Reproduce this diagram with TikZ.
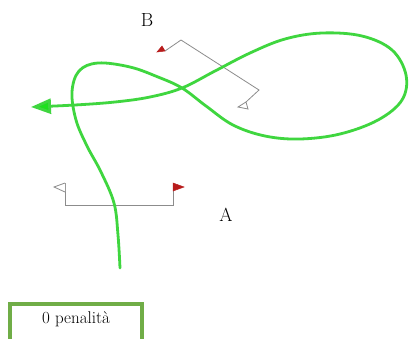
\documentclass[tikz,border=0pt]{standalone}
\usepackage{fontspec}
\setmainfont{Latin Modern Roman}
\usepackage{xcolor}
\usetikzlibrary{arrows.meta}
\definecolor{racepath}{HTML}{3FD63F}
\definecolor{racetip}{HTML}{1EE01E}
\definecolor{polegray}{HTML}{8C8C8C}
\definecolor{flagred}{HTML}{B81C1C}
\definecolor{scoreborder}{HTML}{70AD47}
\tikzset{
  gateline/.style={
    draw=polegray,
    line width=0.8pt,
    line join=miter
  },
  redflag/.style={
    draw=flagred,
    fill=flagred,
    line width=0.5pt
  },
  whiteflag/.style={
    draw=polegray,
    fill=white,
    line width=0.8pt
  },
  gatelabel/.style={
    font=\fontsize{19}{22}\selectfont,
    inner sep=0pt
  },
  scorebox/.style={
    draw=scoreborder,
    line width=4pt
  },
  pathline/.style={
    draw=racepath,
    line width=2.8pt,
    line cap=round,
    -{Triangle[length=20pt, width=15pt, fill=racetip]}
  }
}

\begin{document}
\begin{tikzpicture}[x=1pt, y=-1pt]

  \clip (0,0) rectangle (409,338);
  \fill[white] (0,0) rectangle (409,338);

  % ==================== GATE B ====================
  \coordinate (bRed) at (165,51);
  \coordinate (bTop) at (181,40);
  \coordinate (bCorner) at (259,90);
  \coordinate (bWhite) at (246,102);
  \draw [gateline] (bRed) -- (bTop) -- (bCorner) -- (bWhite);
  \draw [redflag] (bRed) -- (157,52) -- (162,46) -- cycle;
  \draw [whiteflag] (bWhite) -- (238,107) -- (248,109) -- cycle;
  \node (labelB) [gatelabel] at (147,20) {B};

  % ==================== GATE A ====================
  \coordinate (aLeft) at (65,205);
  \coordinate (aRight) at (173,205);
  \draw [gateline] (65,183) -- (aLeft) -- (aRight) -- (173,183);
  \draw [whiteflag] (65,183) -- (54,187) -- (65,192);
  \draw [redflag] (173,183) -- (184,187) -- (173,191) -- cycle;
  \node (labelA) [gatelabel] at (226,215) {A};

  % ==================== PATH ====================
  \draw [pathline] plot [smooth, tension=0.6] coordinates {
    (120,268) (118,235) (114,203) (101,172) (87,146) (76,120) (72,92)
    (79,71) (98,63) (130,67) (158,77) (182,88) (206,106) (233,125)
    (265,136) (300,139) (340,134) (378,120) (402,100) (406,75)
    (392,50) (362,36) (322,33) (285,39) (250,53) (215,71) (182,88)
    (150,97) (115,102) (75,105) (31,107)
  };

  % ==================== SCORE ====================
  \draw [scorebox] (10,304) rectangle (142,350);
  \node (penalty) [gatelabel, font=\fontsize{17}{20}\selectfont] at (76,319) {0 penalità};

\end{tikzpicture}
\end{document}
